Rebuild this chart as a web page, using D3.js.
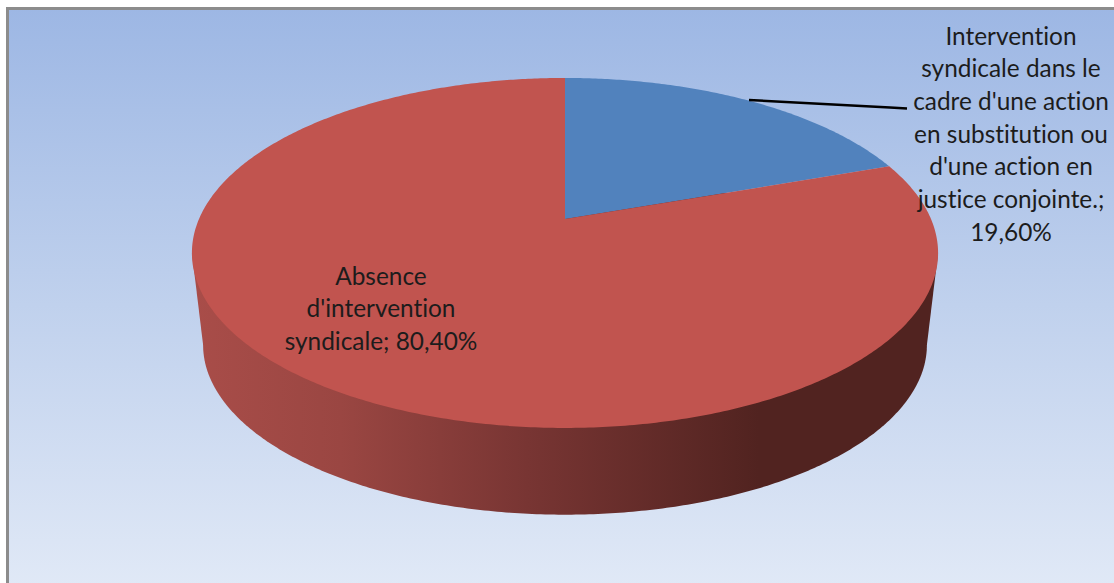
<!DOCTYPE html>
<html>
<head>
    <meta charset="utf-8" />
    <title>Intervention syndicale</title>
    <script src="https://d3js.org/d3.v7.min.js"></script>
    <style type="text/css">
        html, body { margin:0; padding:0; background:#fff; overflow:hidden; }
        svg { display:block; }
        text { font-family:Lato, "Open Sans", sans-serif; font-size:24.4px; fill:#1c1c1c; text-anchor:middle; font-variant-ligatures:none; }
    </style>
</head>
<body>
    <svg id="CHART" width="1114" height="583"></svg>
    <script>
        /************************DATA************************/
        var categories = ["Intervention syndicale", "Absence d'intervention syndicale"];
        var values = [19.6, 80.4];
        var sliceColors = ["#5182bd", "#c1544f"];
        var labelLines = [
            ["Intervention", "syndicale dans le", "cadre d'une action", "en substitution ou", "d'une action en", "justice conjointe.;"],
            ["Absence", "d'intervention", "syndicale;"]
        ];

        /************************GEOMETRY************************/
        var W = 1114, H = 583;
        var CX = 565, APEX_Y = 219;  // apex sits above the ellipse centre, the pie is in perspective
        var R = 366, PERSP = -0.194, TILT = 168.4;

        function Project(angle) {
            var u = Math.sin(angle), v = -Math.cos(angle);
            var d = 1 + PERSP * v;
            return [CX + R * u / d, APEX_Y + TILT * v / d];
        }

        function ArcPoints(a0, a1) {
            var n = Math.ceil((a1 - a0) / 0.01);
            return d3.range(n + 1).map(function (i) { return Project(a0 + (a1 - a0) * i / n); });
        }

        var line = d3.line();
        var svg = d3.select("#CHART");
        var defs = svg.append("defs");

        /*Background*/
        var bg = defs.append("linearGradient").attr("id", "BG")
            .attr("x1", 0).attr("y1", 0).attr("x2", 0).attr("y2", 1);
        bg.append("stop").attr("offset", "0%").attr("stop-color", "#9db7e4");
        bg.append("stop").attr("offset", "50%").attr("stop-color", "#c0d1ed");
        bg.append("stop").attr("offset", "100%").attr("stop-color", "#e2eaf7");

        svg.append("rect").attr("x", 7.5).attr("y", 8.5).attr("width", W + 10).attr("height", H + 10)
            .attr("fill", "url(#BG)").attr("stroke", "#8c8c8c").attr("stroke-width", 3);

        /*Side wall*/
        var wall = defs.append("linearGradient").attr("id", "WALL").attr("gradientUnits", "userSpaceOnUse")
            .attr("x1", 192).attr("y1", 0).attr("x2", 938).attr("y2", 0);
        wall.append("stop").attr("offset", "0%").attr("stop-color", "#a94d49");
        wall.append("stop").attr("offset", "20%").attr("stop-color", "#9a4642");
        wall.append("stop").attr("offset", "45%").attr("stop-color", "#783533");
        wall.append("stop").attr("offset", "76%").attr("stop-color", "#512320");
        wall.append("stop").attr("offset", "100%").attr("stop-color", "#512320");

        var pie = d3.pie().sort(null).startAngle(0).endAngle(2 * Math.PI);
        var slices = pie(values);

        var rim = ArcPoints(0, 2 * Math.PI);
        var xExt = d3.extent(rim, function (p) { return p[0]; });
        var yExt = d3.extent(rim, function (p) { return p[1]; });
        var midY = (yExt[0] + yExt[1]) / 2;
        var FOOT_SCALE = 0.97, FOOT_DROP = 92;
        var foot = rim.map(function (p) {
            return [CX + (p[0] - CX) * FOOT_SCALE, midY + FOOT_DROP + (p[1] - midY) * FOOT_SCALE];
        });
        var footExt = d3.extent(foot, function (p) { return p[0]; });

        svg.append("path").attr("d", line(foot) + "Z").attr("fill", "url(#WALL)");
        svg.append("path").attr("fill", "url(#WALL)").attr("d", line([
            [xExt[0], midY], [xExt[1], midY], [footExt[1], midY + FOOT_DROP], [footExt[0], midY + FOOT_DROP]
        ]) + "Z");

        /*Top face*/
        svg.selectAll("path.SLICE").data(slices).enter().append("path")
            .attr("class", "SLICE")
            .attr("fill", function (d, i) { return sliceColors[i]; })
            .attr("d", function (d) {
                return line([[CX, APEX_Y]].concat(ArcPoints(d.startAngle, d.endAngle))) + "Z";
            });

        /*Leader line*/
        svg.append("path").attr("fill", "none").attr("stroke", "#000").attr("stroke-width", 2.4)
            .attr("d", line([[749, 100], [890, 107.5], [907, 108.5]]));

        /*Labels*/
        function Pct(v) { return v.toFixed(2).replace(".", ",") + "%"; }

        var LH = 32.7;
        function DrawLabel(lines, x, y) {
            svg.append("g").selectAll("text").data(lines).enter().append("text")
                .attr("x", x)
                .attr("y", function (d, i) { return y + i * LH; })
                .text(function (d) { return d; });
        }
        DrawLabel(labelLines[0].concat([Pct(values[0])]), 1011, 44.5);
        DrawLabel(labelLines[1].slice(0, 2).concat([labelLines[1][2] + " " + Pct(values[1])]), 381, 284.5);
    </script>
</body>
</html>
